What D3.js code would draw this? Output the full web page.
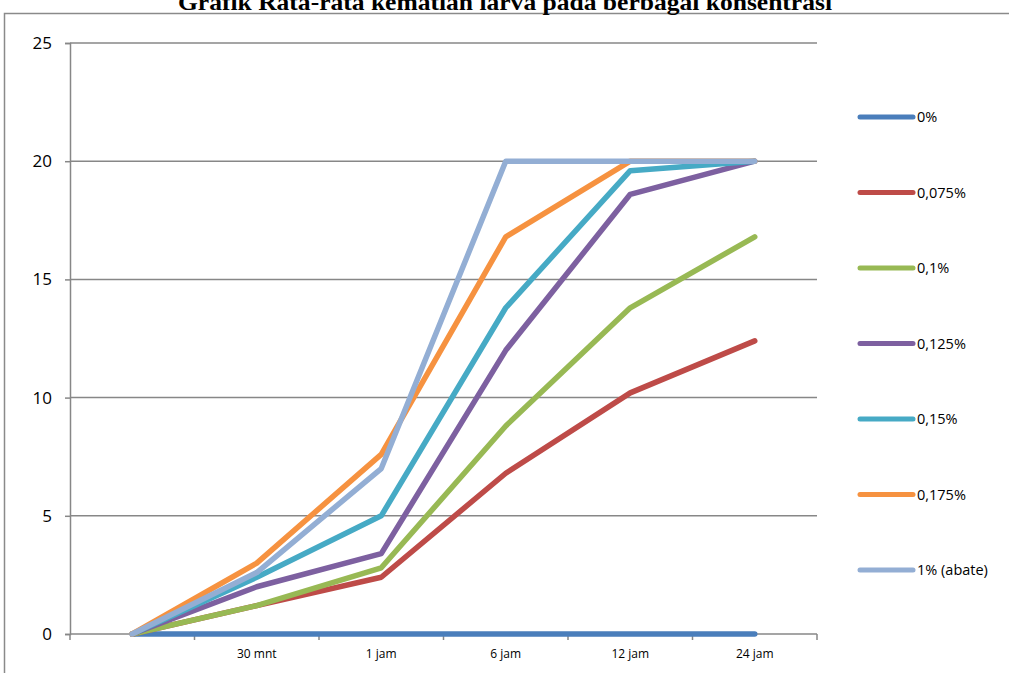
<!DOCTYPE html>
<html><head><meta charset="utf-8">
<script src="https://cdn.jsdelivr.net/npm/d3@7"></script>
<style>body{margin:0;background:#fff}svg{display:block}</style>
</head><body>
<script>
const categories = ["", "30 mnt", "1 jam", "6 jam", "12 jam", "24 jam"];
const seriesNames = ["0%", "0,075%", "0,1%", "0,125%", "0,15%", "0,175%", "1% (abate)"];
const s0 = [0, 0, 0, 0, 0, 0];
const s0075 = [0, 1.2, 2.4, 6.8, 10.2, 12.4];
const s01 = [0, 1.2, 2.8, 8.8, 13.8, 16.8];
const s0125 = [0, 2.0, 3.4, 12.0, 18.6, 20];
const s015 = [0, 2.4, 5.0, 13.8, 19.6, 20];
const s0175 = [0, 3.0, 7.6, 16.8, 20, 20];
const s1 = [0, 2.6, 7.0, 20, 20, 20];
const yTicks = [0, 5, 10, 15, 20, 25];
const colors = ["#4A7EBB", "#BE4B48", "#98B954", "#7D60A0", "#46AAC5", "#F69240", "#93AED4"];
const title = "Grafik Rata-rata kematian larva pada berbagai konsentrasi";

const allSeries = [s0, s0075, s01, s0125, s015, s0175, s1];
const W = 1009, H = 673;
const svg = d3.select("body").append("svg").attr("width", W).attr("height", H);

// outer border
svg.append("rect").attr("x", 4.5).attr("y", 13.5).attr("width", 1100).attr("height", 700)
  .attr("fill", "none").attr("stroke", "#8a8a8a").attr("stroke-width", 1.5);

// title (cut off at the top edge, as in the reference)
svg.append("text").attr("x", 178).attr("y", 10)
  .attr("textLength", 654).attr("lengthAdjust", "spacingAndGlyphs")
  .attr("font-family", "Liberation Serif, Times New Roman, serif")
  .attr("font-weight", "bold").attr("font-size", 24).attr("fill", "#000")
  .text(title);

const x = d3.scaleBand().domain(categories.map((c, i) => i)).range([70, 817]);
const y = d3.scaleLinear().domain([0, 25]).range([634, 43]);

// gridlines
svg.append("g").selectAll("line").data(yTicks.filter(t => t > 0)).join("line")
  .attr("x1", 70).attr("x2", 817).attr("y1", d => y(d)).attr("y2", d => y(d))
  .attr("stroke", "#878787").attr("stroke-width", 1.5);

// y axis
const yAxis = svg.append("g").attr("transform", "translate(70,0)")
  .call(d3.axisLeft(y).tickValues(yTicks).tickSize(5).tickPadding(13));
yAxis.select(".domain").attr("stroke", "#878787").attr("stroke-width", 1.5);
yAxis.selectAll(".tick line").attr("stroke", "#878787").attr("stroke-width", 1.5);
yAxis.selectAll("text").attr("font-family", "Open Sans, Liberation Sans, sans-serif")
  .attr("font-size", 17).attr("fill", "#000");

// x axis
const xAxis = svg.append("g").attr("transform", "translate(0,634)")
  .call(d3.axisBottom(x).tickFormat(i => categories[i]).tickSize(0).tickPadding(15));
xAxis.select(".domain").attr("stroke", "#878787").attr("stroke-width", 1.5)
  .attr("d", "M70,0H817");
xAxis.selectAll("text").attr("font-family", "Open Sans, Liberation Sans, sans-serif")
  .attr("font-size", 12).attr("fill", "#000");
const bounds = categories.map((c, i) => x(i)).concat([x(categories.length - 1) + x.bandwidth()]);
xAxis.selectAll(".bt").data(bounds).join("line").attr("class", "bt")
  .attr("x1", d => d).attr("x2", d => d).attr("y1", 0).attr("y2", 6)
  .attr("stroke", "#878787").attr("stroke-width", 1.5);

// lines
const line = d3.line().x((d, i) => x(i) + x.bandwidth() / 2).y(d => y(d));
svg.append("g").selectAll("path").data(allSeries).join("path")
  .attr("d", line).attr("fill", "none")
  .attr("stroke", (d, i) => colors[i]).attr("stroke-width", 5.5)
  .attr("stroke-linejoin", "round").attr("stroke-linecap", "round");

// legend
const lg = svg.append("g").selectAll("g").data(seriesNames).join("g")
  .attr("transform", (d, i) => `translate(0,${117 + i * 75.5})`);
lg.append("line").attr("x1", 860).attr("x2", 913).attr("y1", 0).attr("y2", 0)
  .attr("stroke", (d, i) => colors[i]).attr("stroke-width", 5).attr("stroke-linecap", "round");
lg.append("text").attr("x", 917).attr("y", 5)
  .attr("font-family", "Open Sans, Liberation Sans, sans-serif").attr("font-size", 14.5)
  .attr("fill", "#000").text(d => d);
</script>
</body></html>
